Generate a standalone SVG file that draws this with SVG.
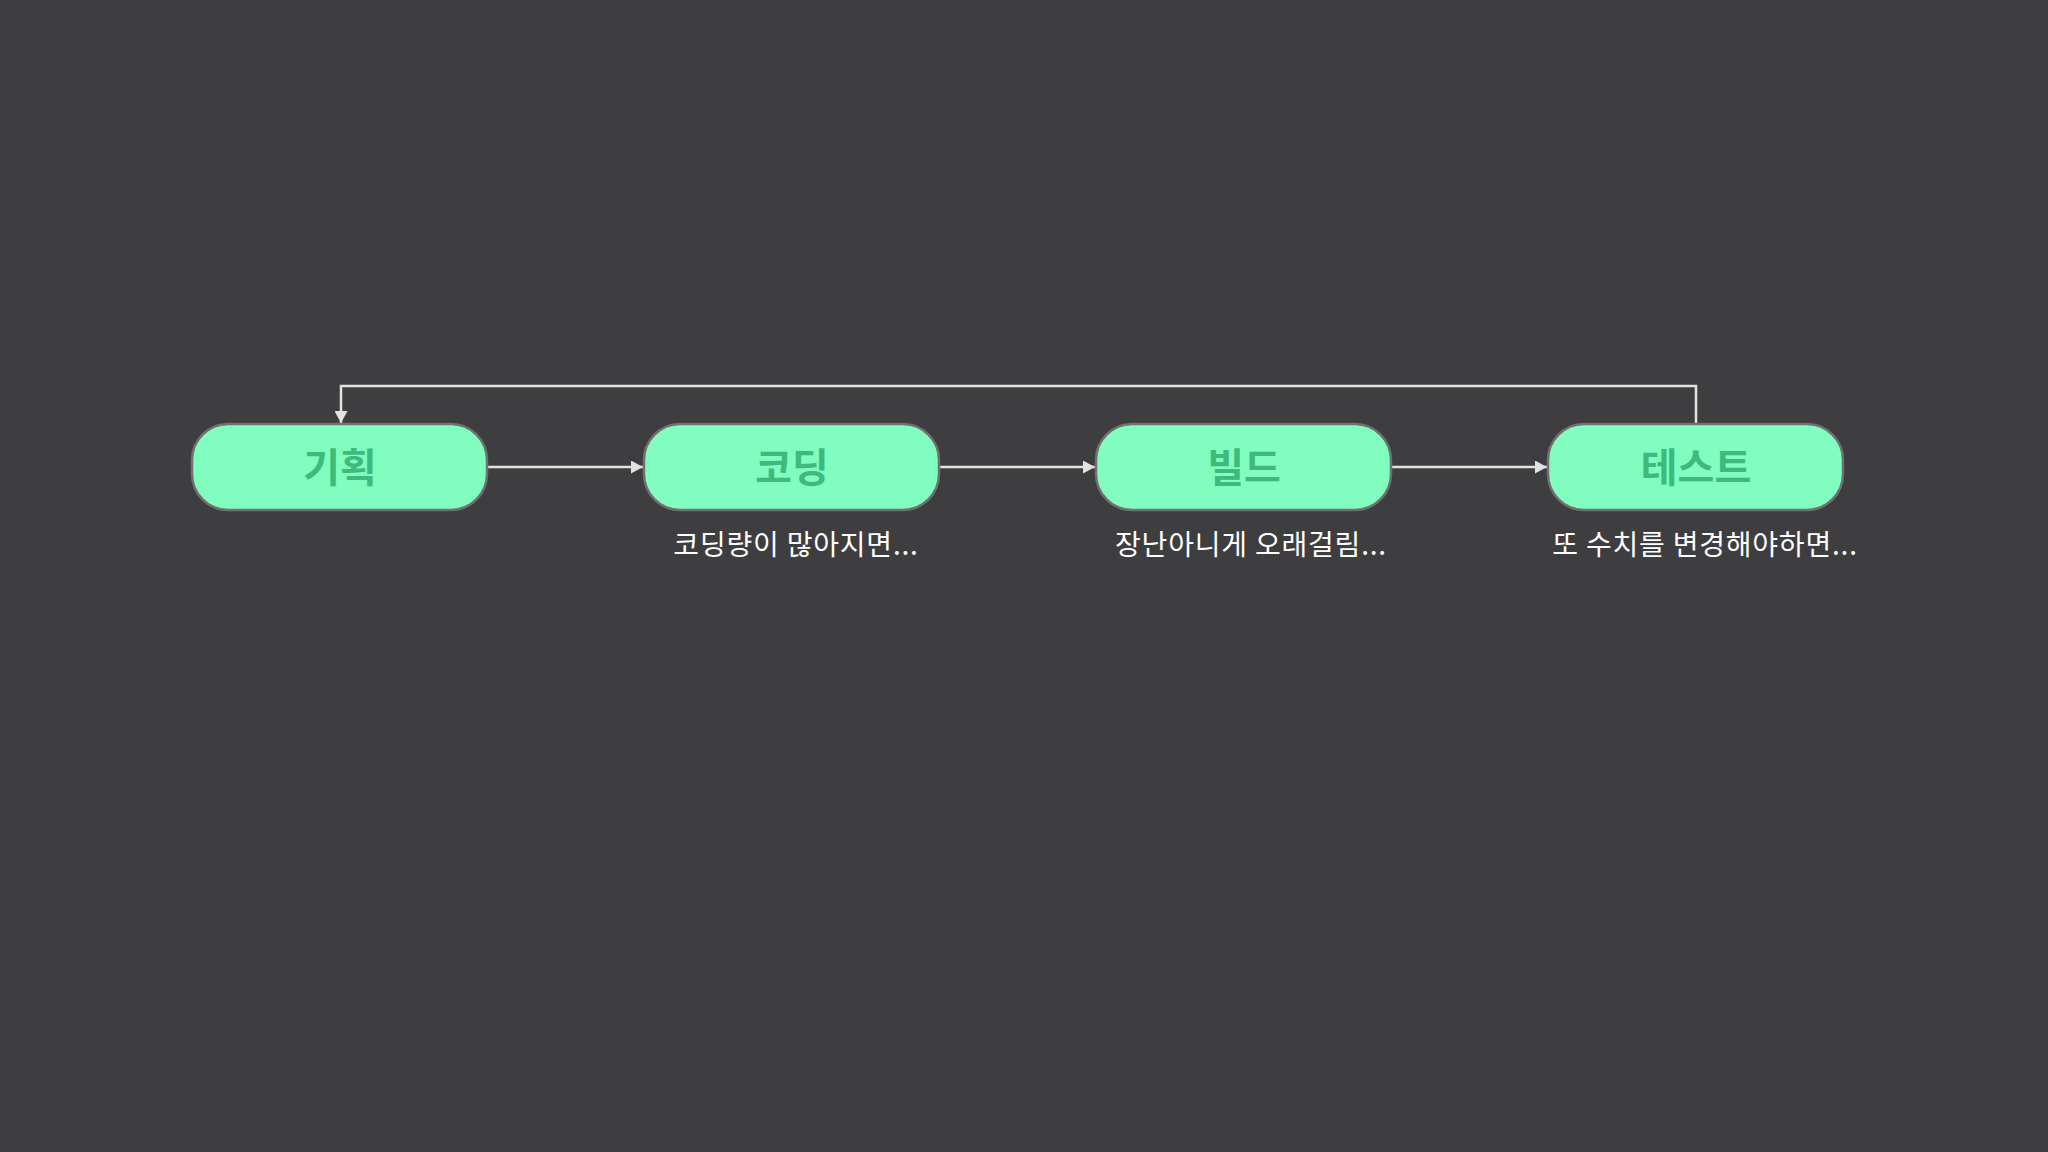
<svg xmlns="http://www.w3.org/2000/svg" width="2048" height="1152" viewBox="0 0 2048 1152">
<defs>
<marker id="arr" markerWidth="12" markerHeight="13" refX="12" refY="6.5" orient="auto" markerUnits="userSpaceOnUse">
<path d="M0,0 L12,6.5 L0,13 Z" fill="#e2e2e2"/>
</marker>
</defs>
<style>
.node rect{fill:#80fdbf;stroke:#707070;stroke-width:2.5}
.node text{font-family:"Noto Sans CJK KR","Noto Sans",sans-serif;font-weight:bold;font-size:40px;fill:#3dba7c;text-anchor:middle}
.sub{font-family:"Noto Sans CJK KR","Noto Sans",sans-serif;font-size:28px;letter-spacing:0.8px;fill:#ffffff;text-anchor:middle}
.conn path{fill:none;stroke:#e2e2e2;stroke-width:2.5}
</style>
<rect width="2048" height="1152" fill="#3e3d3f"/>
<g class="conn">
<path d="M487,467 H643" marker-end="url(#arr)"/>
<path d="M939,467 H1095" marker-end="url(#arr)"/>
<path d="M1391,467 H1547" marker-end="url(#arr)"/>
<path d="M1696,424 V386 H341 V423" marker-end="url(#arr)"/>
</g>
<g id="node-plan" class="node">
<rect x="192" y="424" width="295" height="86" rx="36"/>
<text x="340" y="482">기획</text>
</g>
<g id="node-coding" class="node">
<rect x="644" y="424" width="295" height="86" rx="36"/>
<text x="792" y="482">코딩</text>
</g>
<g id="node-build" class="node">
<rect x="1096" y="424" width="295" height="86" rx="36"/>
<text x="1244" y="482">빌드</text>
</g>
<g id="node-test" class="node">
<rect x="1548" y="424" width="295" height="86" rx="36"/>
<text x="1696" y="482">테스트</text>
</g>
<text class="sub" x="796" y="555">코딩량이 많아지면...</text>
<text class="sub" x="1251" y="555">장난아니게 오래걸림...</text>
<text class="sub" x="1705" y="555">또 수치를 변경해야하면...</text>
</svg>
